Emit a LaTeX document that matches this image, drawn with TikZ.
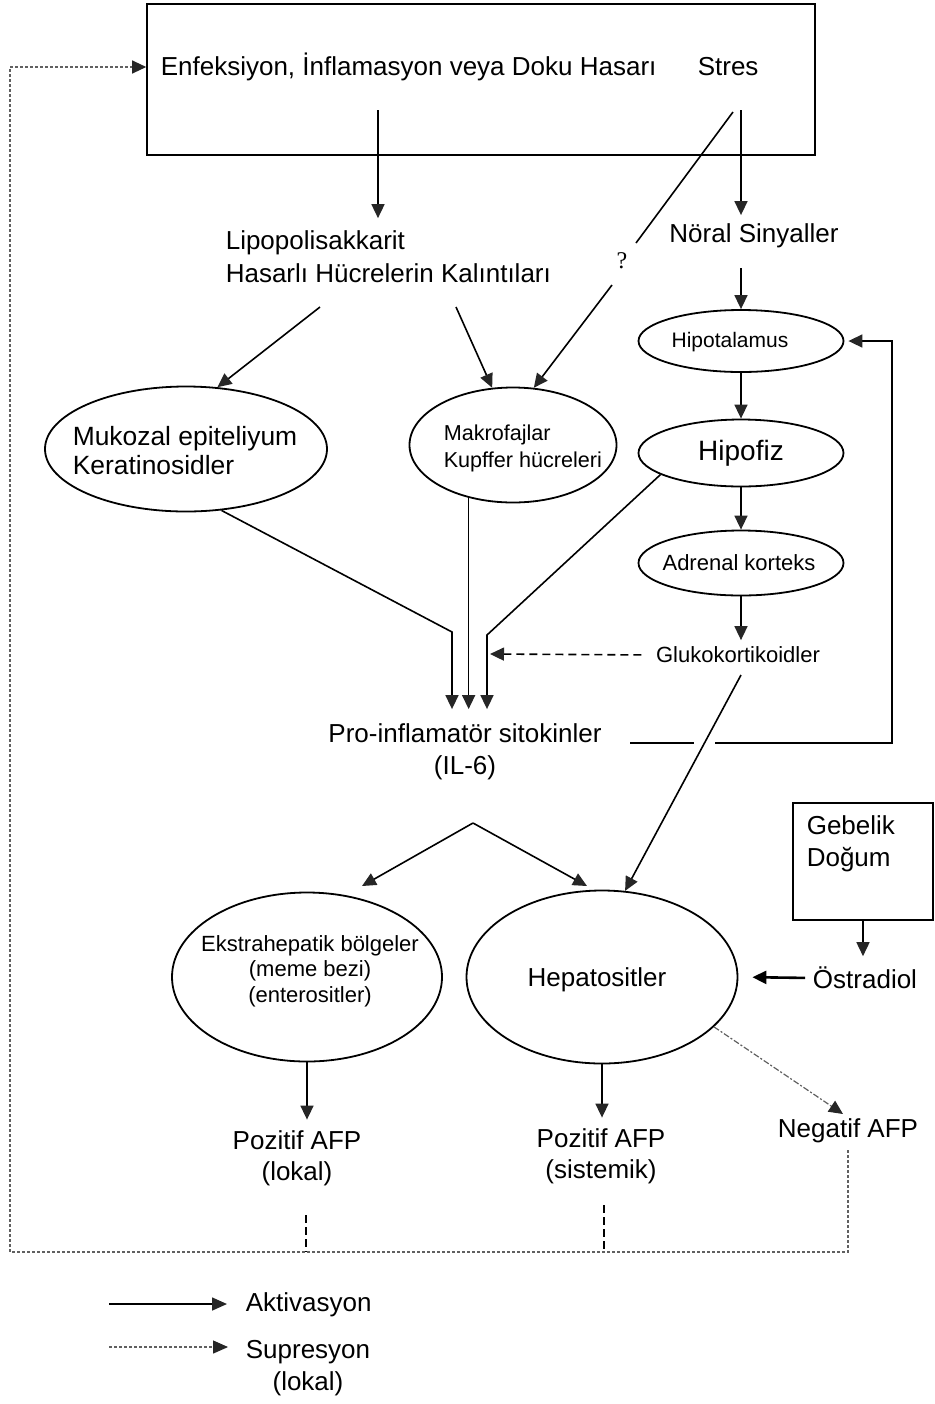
\documentclass[tikz,border=0pt]{standalone}
\usepackage{fontspec}
\setmainfont{Liberation Sans}
\newfontfamily\qfont{Liberation Serif}
\usetikzlibrary{arrows.meta,shapes.geometric,calc}
\newcommand\fsz[2]{\fontsize{#1}{#2}\selectfont}
\begin{document}
\begin{tikzpicture}[x=0.5pt,y=-0.5pt,
  line width=0.8pt,
  arr/.style={-{Triangle[length=7pt,width=6.5pt,color=black!85]}},
  larr/.style={-{Triangle[length=7.5pt,width=6.5pt,color=black!85]}},
  ell/.style={draw,ellipse,line width=0.9pt,inner sep=0pt},
  txt/.style={inner sep=0pt,align=center,font=\fsz{13}{16}},
  supline/.style={draw=gray!75!black,line width=0.6pt,dash pattern=on 1.5pt off 1pt},
  gdash/.style={dash pattern=on 4pt off 2.5pt},
  bdash/.style={dash pattern=on 4pt off 2pt},
  negline/.style={draw=gray!75!black,line width=0.6pt,dash pattern=on 3pt off 1pt on 1pt off 1pt},
]
\useasboundingbox (0,0) rectangle (935,1404);

% ---- nodes ----
\node[draw,line width=0.8pt,minimum width=334pt,minimum height=75.5pt,inner sep=0pt] (box) at (481,79.5) {};
\node[txt,anchor=west] (enf) at (160,67) {Enfeksiyon, İnflamasyon veya Doku Hasarı};
\node[txt,anchor=west] (stres) at (697,67) {Stres};
\node[txt,align=left,anchor=west,font=\fsz{13}{16.5}] (lipo) at (225,257) {Lipopolisakkarit\\Hasarlı Hücrelerin Kalıntıları};
\node[txt] (noral) at (754,236) {Nöral Sinyaller};
\node[inner sep=0pt,font=\qfont\fsz{12}{14}] (q) at (622,261) {?};

\node[ell,minimum width=102.5pt,minimum height=31pt] (hipot) at (741,341) {};
\node[txt,font=\fsz{10.5}{12}] (hipott) at (730,342) {Hipotalamus};
\node[ell,minimum width=102.5pt,minimum height=33.5pt,font=\fsz{14}{16}] (hipof) at (741,453) {Hipofiz};
\node[ell,minimum width=102.5pt,minimum height=32.5pt] (adr) at (741,563) {};
\node[txt,font=\fsz{11}{12}] (adrt) at (739,563) {Adrenal korteks};
\node[txt,font=\fsz{11}{12}] (gluko) at (738,655) {Glukokortikoidler};

\node[ell,minimum width=141pt,minimum height=62.5pt] (muk) at (186,449) {};
\node[txt,align=left,anchor=west,font=\fsz{13.2}{14.5}] (mukt) at (72,451) {Mukozal epiteliyum\\Keratinosidler};
\node[ell,minimum width=103.5pt,minimum height=57.5pt] (mak) at (513,445) {};
\node[txt,align=left,anchor=west,font=\fsz{10.8}{13.5}] (makt) at (443,448) {Makrofajlar\\Kupffer hücreleri};

\node[txt] (pro) at (465,752) {Pro-inflamatör sitokinler\\(IL-6)};

\node[ell,minimum width=135pt,minimum height=84.5pt] (eks) at (307,977) {};
\node[txt,font=\fsz{11}{12.75}] (ekst) at (310,971) {Ekstrahepatik bölgeler\\(meme bezi)\\(enterositler)};
\node[ell,minimum width=135.5pt,minimum height=86.5pt] (hep) at (602,977) {};
\node[txt] (hept) at (597,980) {Hepatositler};

\node[draw,line width=0.8pt,minimum width=70pt,minimum height=58.5pt,inner sep=0pt] (geb) at (863,861.5) {};
\node[txt,align=left,anchor=west] (gebt) at (806,844) {Gebelik\\Doğum};
\node[txt] (ost) at (865,978) {Östradiol};

\node[txt,font=\fsz{13}{15.5}] (poz1) at (297,1158) {Pozitif AFP\\(lokal)};
\node[txt,font=\fsz{13}{15.5}] (poz2) at (601,1156) {Pozitif AFP\\(sistemik)};
\node[txt] (neg) at (848,1131) {Negatif AFP};

\node[txt,anchor=west] (akt) at (245,1305) {Aktivasyon};
\node[txt] (supr) at (308,1368) {Supresyon\\(lokal)};

% ---- coordinates ----
\coordinate (a1) at (378,110);
\coordinate (a2) at (741,110);
\coordinate (s2) at (733,112);
\coordinate (qa) at (636,243);
\coordinate (qb) at (612,285);
\coordinate (l1) at (320,307);
\coordinate (l2) at (456,307);
\coordinate (n0) at (741,268);
\coordinate (p1) at (452,632);
\coordinate (p3) at (487,635);
\coordinate (g1) at (490,654);
\coordinate (g2) at (741,675);
\coordinate (f1) at (630,743);
\coordinate (f2) at (694,743);
\coordinate (f3) at (715,743);
\coordinate (f4) at (892,743);
\coordinate (pk) at (473,823);
\coordinate (e1) at (362,886);
\coordinate (h1) at (587,886);
\coordinate (n1) at (843,1114);
\coordinate (d1) at (306,1215);
\coordinate (d2) at (604,1205);
\coordinate (d3) at (848,1150);
\coordinate (bl) at (10,1252);
\coordinate (br) at (848,1252);
\coordinate (la) at (109,1304);
\coordinate (ls) at (109,1347);

% ---- connectors ----
\draw[arr,shorten >=6pt] (a1) -- (lipo.north -| a1);
\draw[arr,shorten >=4pt] (a2) -- (noral.north -| a2);
\draw (s2) -- (qa);
\draw[arr] (qb) -- (mak.70);
\draw[arr] (l1) -- (muk.63);
\draw[arr] (l2) -- (mak.110);
\draw[arr] (n0) -- (hipot.north);
\draw[arr] (hipot) -- (hipof);
\draw[arr] (hipof) -- (adr);
\draw[arr,shorten >=3pt] (adr.south) -- (gluko.north -| adr.south);

\draw[arr,shorten >=7pt] (muk.-60) -- (p1) -- (p1 |- pro.north);
\draw[arr,shorten >=7pt] (mak.-130) -- (mak.-130 |- pro.north);
\draw[arr,shorten >=7pt] (hipof.195) -- (p3) -- (p3 |- pro.north);

\draw[arr,gdash,shorten <=7pt] (gluko.west) -- (g1);
\draw[arr] (g2) -- (hep.75);

\draw (f1) -- (f2);
\draw[arr,shorten >=2pt] (f3) -- (f4) -- (f4 |- hipot) -- (hipot.east);

\draw[arr] (pk) -- (e1);
\draw[arr] (pk) -- (h1);

\draw[arr,shorten >=5pt] (geb.south) -- (geb.south |- ost.north);
\draw[line width=1.3pt,-{Triangle[length=7pt,width=6.5pt]},shorten <=3.5pt,shorten >=7pt] (ost.west) -- (hep.east);

\draw[arr,shorten >=5pt] (eks.south) -- (eks.south |- poz1.north);
\draw[arr,shorten >=5pt] (hep.south) -- (hep.south |- poz2.north);
\draw[negline,arr] (hep.-24) -- (n1);

\draw[bdash] (d1) -- (d1 |- bl);
\draw[bdash] (d2) -- (d2 |- bl);
\draw[supline,arr] (d3) -- (br) -- (bl) -- (bl |- enf) -- (box.west |- enf);

% ---- legend ----
\draw[larr,shorten >=9pt] (la) -- (akt.west |- la);
\draw[supline,larr,shorten >=8.5pt] (ls) -- (supr.west |- ls);
\end{tikzpicture}
\end{document}
